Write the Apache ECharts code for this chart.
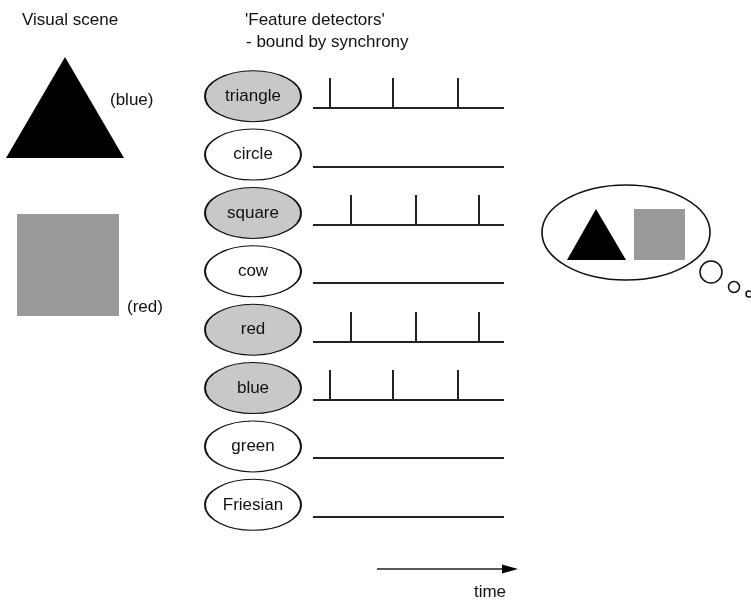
<!DOCTYPE html>
<html>
<head>
<meta charset="utf-8">
<script src="https://cdn.jsdelivr.net/npm/echarts@6/dist/echarts.min.js"></script>
<style>
  html, body { margin: 0; padding: 0; background: #fff; }
  #main { width: 751px; height: 601px; }
</style>
</head>
<body>
<div id="main"></div>
<script>
// feature detectors, which ones fire, and when (time as % of the trace)
const detectors = ['triangle', 'circle', 'square', 'cow', 'red', 'blue', 'green', 'Friesian']
const active = [true, false, true, false, true, true, false, false]
const spikeTimes = [[9, 42, 76], [], [20, 54, 87], [], [20, 54, 87], [9, 42, 76], [], []]

const FONT = '"Liberation Sans", Arial, Helvetica, sans-serif'
const INK = '#222'

const chart = echarts.init(document.getElementById('main'))

// one trace per detector: baseline plus vertical spikes
function renderTrain (params, api) {
  const i = api.value(0)
  const start = api.coord([0, i])
  const end = api.coord([100, i])
  const base = Math.round(start[1] + 12)
  const children = [{
    type: 'line',
    shape: { x1: start[0], y1: base, x2: end[0], y2: base },
    style: { stroke: INK, lineWidth: 2 }
  }]
  spikeTimes[i].forEach(t => {
    const x = Math.round(api.coord([t, i])[0])
    children.push({
      type: 'line',
      shape: { x1: x, y1: base, x2: x, y2: base - 30 },
      style: { stroke: INK, lineWidth: 2 }
    })
  })
  return { type: 'group', children }
}

const txt = (text, x, y, align) => ({
  type: 'text', x, y,
  style: { text, font: '17px ' + FONT, fill: '#111', align: align || 'left', verticalAlign: 'middle' }
})

chart.setOption({
  animation: false,
  grid: [
    { left: 313, top: 67, width: 191, height: 467 },
    { left: 205, top: 67, width: 96, height: 467 }
  ],
  xAxis: [
    { gridIndex: 0, type: 'value', min: 0, max: 100, show: false },
    { gridIndex: 1, type: 'value', min: 0, max: 1, show: false }
  ],
  yAxis: [
    { gridIndex: 0, type: 'category', data: detectors, inverse: true, show: false },
    { gridIndex: 1, type: 'category', data: detectors, inverse: true, show: false }
  ],
  series: [
    {
      type: 'custom',
      xAxisIndex: 0,
      yAxisIndex: 0,
      renderItem: renderTrain,
      data: detectors.map((d, i) => [i]),
      silent: true
    },
    {
      type: 'scatter',
      xAxisIndex: 1,
      yAxisIndex: 1,
      symbol: 'circle',
      symbolSize: [96, 51],
      silent: true,
      data: detectors.map((d, i) => ({
        value: [0.5, i],
        itemStyle: { color: active[i] ? '#c8c8c8' : '#fff' }
      })),
      itemStyle: { borderColor: '#111', borderWidth: 1.4, opacity: 1 },
      label: {
        show: true,
        position: 'inside',
        formatter: p => detectors[p.dataIndex],
        color: '#111',
        fontSize: 17,
        fontFamily: FONT
      },
      emphasis: { disabled: true }
    }
  ],
  graphic: [
    // visual scene
    txt('Visual scene', 22, 20),
    { type: 'polygon', shape: { points: [[65, 57], [6, 158], [124, 158]] }, style: { fill: '#000' } },
    txt('(blue)', 110, 100),
    { type: 'rect', shape: { x: 17, y: 214, width: 102, height: 102 }, style: { fill: '#999' } },
    txt('(red)', 127, 307),
    // header of the detector column
    txt("'Feature detectors'", 245, 20),
    txt('- bound by synchrony', 246, 42),
    // time arrow
    { type: 'line', shape: { x1: 377, y1: 569, x2: 506, y2: 569 }, style: { stroke: INK, lineWidth: 1.3 } },
    { type: 'polygon', shape: { points: [[502, 564.5], [518, 569], [502, 573.5]] }, style: { fill: '#000' } },
    txt('time', 490, 592, 'center'),
    // thought bubble
    { type: 'ellipse', shape: { cx: 626, cy: 232.5, rx: 84, ry: 47.5 }, style: { fill: '#fff', stroke: '#111', lineWidth: 1.6 } },
    { type: 'polygon', shape: { points: [[596, 209], [567, 260], [626, 260]] }, style: { fill: '#000' } },
    { type: 'rect', shape: { x: 634, y: 209, width: 51, height: 51 }, style: { fill: '#999' } },
    { type: 'circle', shape: { cx: 711, cy: 272, r: 11 }, style: { fill: '#fff', stroke: '#111', lineWidth: 1.5 } },
    { type: 'circle', shape: { cx: 734, cy: 287, r: 5.5 }, style: { fill: '#fff', stroke: '#111', lineWidth: 1.5 } },
    { type: 'circle', shape: { cx: 749, cy: 294, r: 3 }, style: { fill: '#fff', stroke: '#111', lineWidth: 1.5 } }
  ]
})
</script>
</body>
</html>
